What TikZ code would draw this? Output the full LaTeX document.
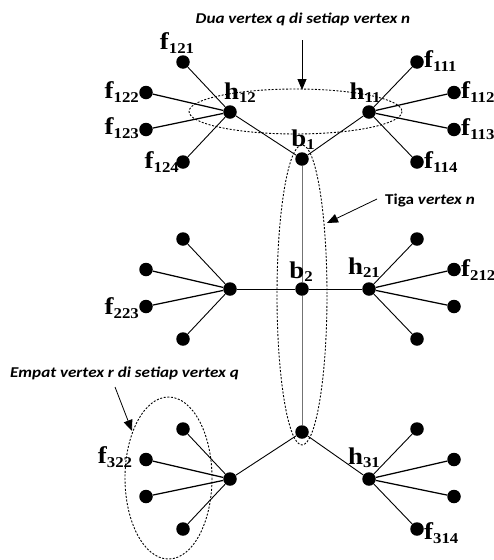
\documentclass[tikz,border=0pt]{standalone}
\usepackage{fontspec}
\setmainfont{Liberation Serif}
\newfontfamily\labfont[FakeStretch=1.12]{Liberation Serif}
\newfontfamily\notefont[FakeStretch=1.14]{Carlito}
\usetikzlibrary{arrows.meta}
% vertex name with a lowered index
\newcommand\vname[2]{#1\raisebox{-0.3ex}{\fontsize{15}{15}\selectfont #2}}
\begin{document}
\begin{tikzpicture}[x=1pt,y=-1pt,
  dot/.style={circle,fill=black,inner sep=0pt,minimum size=13.5pt},
  edge/.style={line width=0.9pt},
  flatedge/.style={line width=1.25pt},
  spine/.style={line width=0.8pt,draw=black!55},
  grp/.style={line width=0.9pt,dash pattern=on 2pt off 1.6pt},
  pointer/.style={line width=0.8pt,-{Triangle[length=11pt,width=9pt]}},
  vlab/.style={inner sep=0pt,font=\labfont\fontsize{24}{26}\selectfont\bfseries},
  note/.style={inner sep=0pt,font=\notefont\fontsize{15}{18}\selectfont\bfseries}]
\useasboundingbox (0,0) rectangle (494,560);

% spine vertices
\node[dot] (b1) at (302,159) {};
\node[dot] (b2) at (302,289) {};
\node[dot] (b3) at (302,432) {};
% branch vertices
\node[dot] (h12) at (230,112) {};
\node[dot] (h11) at (369,112) {};
\node[dot] (h22) at (230,289) {};
\node[dot] (h21) at (369,289) {};
\node[dot] (h32) at (230,479) {};
\node[dot] (h31) at (369,479) {};

% leaves: left of h_i2 and right of h_i1
\foreach \i/\y in {1/112,2/289,3/479}{
  \node[dot] (f\i21) at (183,\y-50) {};
  \node[dot] (f\i22) at (146,\y-19.5) {};
  \node[dot] (f\i23) at (146,\y+17.5) {};
  \node[dot] (f\i24) at (183,\y+50) {};
  \node[dot] (f\i11) at (417,\y-50) {};
  \node[dot] (f\i12) at (454,\y-19.5) {};
  \node[dot] (f\i13) at (454,\y+17.5) {};
  \node[dot] (f\i14) at (417,\y+50) {};
  \foreach \k in {1,4}{
    \draw[edge] (h\i2) -- (f\i2\k);
    \draw[edge] (h\i1) -- (f\i1\k);
  }
  \foreach \k in {2,3}{
    \draw[flatedge] (h\i2) -- (f\i2\k);
    \draw[flatedge] (h\i1) -- (f\i1\k);
  }
}

% tree edges
\draw[edge] (b1) -- (h12);
\draw[edge] (b1) -- (h11);
\draw[spine] (b1) -- (b2);
\draw[spine] (b2) -- (b3);
\draw[edge] (h22) -- (b2);
\draw[edge] (b2) -- (h21);
\draw[edge] (b3) -- (h32);
\draw[edge] (b3) -- (h31);

% grouping ellipses
\draw[grp] (295.5,111.5) ellipse [x radius=106.5, y radius=22.5];
\draw[grp] (302,295) ellipse [x radius=25, y radius=150];
\draw[grp] (168.5,478) ellipse [x radius=43.5, y radius=81];

% vertex labels
\node[vlab] (lf121) at (177,43) {\vname{f}{121}};
\node[vlab,anchor=east] (lf122) at (139,92) {\vname{f}{122}};
\node[vlab,anchor=east] (lf123) at (139,128) {\vname{f}{123}};
\node[vlab,anchor=east] (lf124) at (179,162) {\vname{f}{124}};
\node[vlab] (lh12) at (240,93) {\vname{h}{12}};
\node[vlab] (lh11) at (365,93) {\vname{h}{11}};
\node[vlab] (lb1) at (303,140) {\vname{b}{1}};
\node[vlab,anchor=west] (lf111) at (424,61) {\vname{f}{111}};
\node[vlab,anchor=west] (lf112) at (461,92) {\vname{f}{112}};
\node[vlab,anchor=west] (lf113) at (461,129) {\vname{f}{113}};
\node[vlab,anchor=west] (lf114) at (424,162) {\vname{f}{114}};
\node[vlab] (lb2) at (301,272) {\vname{b}{2}};
\node[vlab] (lh21) at (364,268) {\vname{h}{21}};
\node[vlab,anchor=west] (lf212) at (461,270) {\vname{f}{212}};
\node[vlab,anchor=east] (lf223) at (139,308) {\vname{f}{223}};
\node[vlab] (lf322) at (115,457) {\vname{f}{322}};
\node[vlab] (lh31) at (364,458) {\vname{h}{31}};
\node[vlab,anchor=west] (lf314) at (424,533) {\vname{f}{314}};

% annotations
\node[note] (nq) at (303,19) {\itshape Dua vertex q di setiap vertex n};
\node[note,anchor=west] (nn) at (385,201) {Tiga \itshape vertex n};
\node[note,anchor=west] (nr) at (10,373) {\itshape Empat vertex r di setiap vertex q};
\coordinate (aq0) at (302,40);
\coordinate (aq1) at (302,90);
\coordinate (an0) at (377,199);
\coordinate (an1) at (327,223);
\coordinate (ar0) at (115,387);
\coordinate (ar1) at (132,431);
\draw[pointer] (aq0) -- (aq1);
\draw[pointer] (an0) -- (an1);
\draw[pointer] (ar0) -- (ar1);
\end{tikzpicture}
\end{document}
